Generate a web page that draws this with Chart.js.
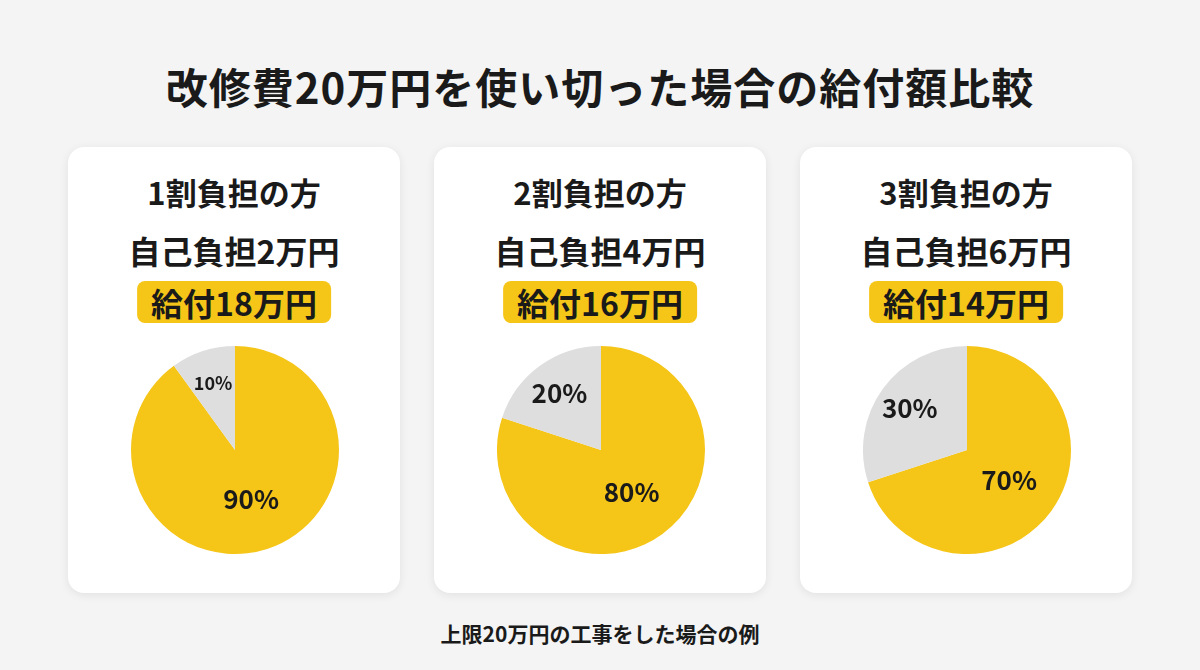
<!DOCTYPE html>
<html><head><meta charset="utf-8">
<script src="https://cdn.jsdelivr.net/npm/chart.js@4/dist/chart.umd.min.js"></script>
<style>
body{margin:0;width:1200px;height:670px;background:#f4f4f4;font-family:"Noto Sans CJK JP","Noto Sans",sans-serif;color:#1a1a1a;position:relative;overflow:hidden}
h1{position:absolute;top:56px;left:0;width:100%;text-align:center;margin:0;font-size:42px;line-height:60px;font-weight:700;letter-spacing:1px}
.card{position:absolute;top:147px;width:332px;height:446px;background:#fff;border-radius:16px;box-shadow:0 2px 10px rgba(0,0,0,.08);text-align:center}
.card .t1{position:absolute;top:25px;width:100%;font-size:31px;line-height:40px;font-weight:700}
.card .t2{position:absolute;top:83px;width:100%;font-size:32px;line-height:40px;font-weight:700}
.card .t3{position:absolute;top:134px;left:50%;transform:translateX(-50%);background:#f5c518;border-radius:8px;padding:0 14px;height:42px;line-height:42px;font-size:32px;font-weight:700;white-space:nowrap}
.card .pie{position:absolute;left:63px;top:199px;width:208px;height:208px}
.foot{position:absolute;top:618px;width:100%;text-align:center;font-size:21px;line-height:30px;font-weight:700}
</style></head><body>
<h1>改修費20万円を使い切った場合の給付額比較</h1>
<div class="card" style="left:68px"><div class="t1">1割負担の方</div><div class="t2">自己負担2万円</div><div class="t3">給付18万円</div><div class="pie"><canvas id="c0"></canvas></div></div>
<div class="card" style="left:434px"><div class="t1">2割負担の方</div><div class="t2">自己負担4万円</div><div class="t3">給付16万円</div><div class="pie"><canvas id="c1"></canvas></div></div>
<div class="card" style="left:800px"><div class="t1">3割負担の方</div><div class="t2">自己負担6万円</div><div class="t3">給付14万円</div><div class="pie"><canvas id="c2"></canvas></div></div>
<div class="foot">上限20万円の工事をした場合の例</div>
<script>
// 給付 / 自己負担 (%)
const benefit = [90, 80, 70];
const selfPay = [10, 20, 30];
const sliceLabels = ['給付', '自己負担'];

const labelPlugin = {
  id: 'pctLabels',
  afterDatasetsDraw(chart) {
    const ctx = chart.ctx;
    const meta = chart.getDatasetMeta(0);
    meta.data.forEach(function (arc, i) {
      const v = chart.data.datasets[0].data[i];
      const mid = (arc.startAngle + arc.endAngle) / 2;
      const r = arc.outerRadius * (i === 0 ? 0.5 : 0.68);
      const x = arc.x + Math.cos(mid) * r;
      const y = arc.y + Math.sin(mid) * r;
      ctx.save();
      ctx.fillStyle = '#1a1a1a';
      ctx.font = (i === 1 && v < 15 ? '600 18' : 'bold 26') + 'px "Noto Sans CJK JP", sans-serif';
      ctx.textAlign = 'center';
      ctx.textBaseline = 'middle';
      ctx.fillText(v + '%', x, y);
      ctx.restore();
    });
  }
};

benefit.forEach(function (b, k) {
  new Chart(document.getElementById('c' + k), {
    type: 'pie',
    data: {
      labels: sliceLabels,
      datasets: [{ data: [b, selfPay[k]], backgroundColor: ['#f5c518', '#dedede'], borderWidth: 0 }]
    },
    options: {
      responsive: true, maintainAspectRatio: false, animation: false,
      layout: { padding: 0 },
      plugins: { legend: { display: false }, tooltip: { enabled: false } }
    },
    plugins: [labelPlugin]
  });
});
</script>
</body></html>
